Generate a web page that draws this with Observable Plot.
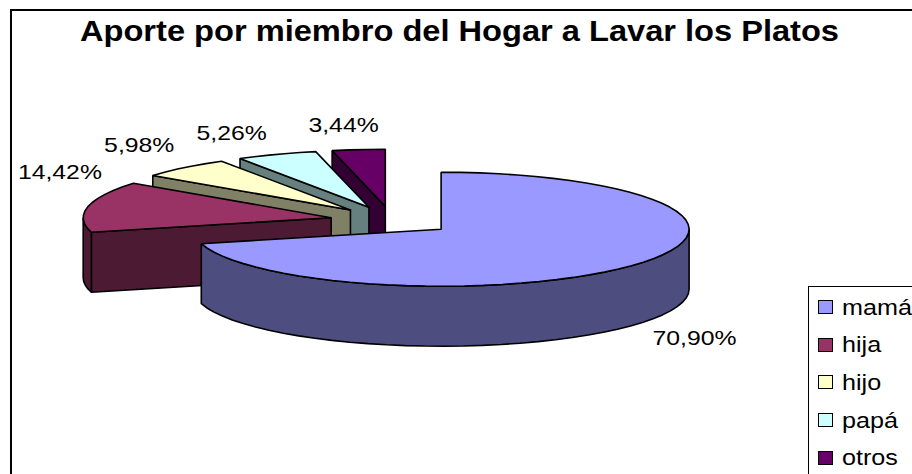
<!DOCTYPE html>
<html><head><meta charset="utf-8">
<script src="https://cdn.jsdelivr.net/npm/d3@7"></script>
<script src="https://cdn.jsdelivr.net/npm/@observablehq/plot@0.6"></script>
<style>
html,body{margin:0;padding:0;background:#fff;overflow:hidden}
#wrap{position:relative;width:912px;height:474px;overflow:hidden;font-family:"Liberation Sans",Arial,sans-serif}
#wrap svg{display:block;position:absolute;left:0;top:0}
#legend{position:absolute;left:808px;top:286px;width:200px;height:300px;border:1px solid #000;background:#fff;color:#000;box-sizing:border-box}
#legend div{position:absolute;left:10px;font-size:21.5px;line-height:24px;white-space:nowrap}
#legend i{position:absolute;left:-1px;top:4.5px;width:15px;height:14px;border:1.5px solid #000;box-sizing:border-box;}
#legend span{position:absolute;left:23px;top:0;transform:scaleX(1.17);transform-origin:0 50%}
</style></head><body><div id="wrap"></div>
<script>
const categories = ["mamá","hija","hijo","papá","otros"];
const shares = [70.90,14.42,5.98,5.26,3.44];
const labels = ["70,90%","14,42%","5,98%","5,26%","3,44%"];
const topColors = ["#9999FF","#993366","#FFFFCC","#CCFFFF","#660066"];
const sideColors = ["#4D4D80","#4D1A33","#808066","#668080","#330033"];
const titleText = "Aporte por miembro del Hogar a Lavar los Platos";

// layout of the projected pie (in screen px)
const cx = 391.5, cy = 220, rx = 248, ry = 57, depthPx = 60, explode = 0.25;
const labelOffsets = [[57,14],[-28,-34],[-45,-22],[-45,-21],[-15,-24]];
const labelStretch = 1.18, titleWidth = 759;
const depth = depthPx / ry;

const total = d3.sum(shares);
let acc = 0;
const slices = categories.map((c,i)=>{
  const a0 = acc/total*2*Math.PI; acc += shares[i];
  const a1 = acc/total*2*Math.PI;
  const mid = (a0+a1)/2;
  return {c,i,a0,a1,mid,ox:explode*Math.sin(mid),oy:explode*Math.cos(mid)};
});
const rim = (s,a,d=0)=>({x:s.ox+Math.sin(a),y:s.oy+Math.cos(a)-d});
const apex = (s,d=0)=>({x:s.ox,y:s.oy-d});
function arc(s,from,to,d=0){
  const n = Math.max(2,Math.ceil(Math.abs(to-from)/(Math.PI/40)));
  return d3.range(n+1).map(k=>rim(s,from+(to-from)*k/n,d));
}
function close(p){return [...p,p[0]];}
const faces = [];
[...slices].reverse().forEach(s=>{
  const wallA = (a)=>close([apex(s),rim(s,a),rim(s,a,depth),apex(s,depth)]);
  if (s.i===0){
    const f=Math.PI/2,t=s.a1;
    faces.push({pts:close([...arc(s,f,t),...arc(s,t,f,depth)]),fill:sideColors[s.i]});
  } else {
    faces.push({pts:wallA(s.a0),fill:sideColors[s.i]});
    if (s.a0 < 1.5*Math.PI){
      const t=1.5*Math.PI;
      faces.push({pts:close([...arc(s,s.a0,t),...arc(s,t,s.a0,depth)]),fill:sideColors[s.i]});
    }
  }
  faces.push({pts:close([apex(s),...arc(s,s.a0,s.a1)]),fill:topColors[s.i]});
});
const lineStroke = {x:"x",y:"y",stroke:"#000",strokeWidth:1.6,curve:"linear",strokeLinejoin:"miter"};

const labelMarks = slices.map(s=>{
  const front = s.i===0;
  const p = rim(s,s.mid,front?depth:0);
  return Plot.text([{...p,t:labels[s.i]}],{x:"x",y:"y",text:"t",fontSize:21,fill:"#000",className:"pct",
    dx:labelOffsets[s.i][0],dy:labelOffsets[s.i][1],textAnchor:"middle"});
});

const plot = Plot.plot({
  width:912,height:474,margin:0,
  x:{domain:[-1,1],range:[cx-rx,cx+rx],axis:null},
  y:{domain:[1,-1],range:[cy-ry,cy+ry],axis:null},
  marks:[
    Plot.frame({stroke:"#000",strokeWidth:2,insetLeft:10.5,insetTop:9.5,insetRight:-10,insetBottom:-10}),
    ...faces.map(f=>Plot.line(f.pts,{...lineStroke,fill:f.fill})),
    ...labelMarks,
    Plot.text([titleText],{text:d=>d,frameAnchor:"top",dx:3,dy:19.5,fontSize:29.5,fontWeight:"bold",fill:"#000",lineAnchor:"top",className:"ttl"})
  ]
});
plot.style.fontFamily='"Liberation Sans",Arial,sans-serif';
const wrap=document.getElementById("wrap");
wrap.appendChild(plot);
const stretch=(t,w)=>{t.setAttribute("textLength",w);t.setAttribute("lengthAdjust","spacingAndGlyphs");};
plot.querySelectorAll(".pct text").forEach(t=>stretch(t,t.getComputedTextLength()*labelStretch));
plot.querySelectorAll(".ttl text").forEach(t=>stretch(t,titleWidth));
const leg=document.createElement("div");leg.id="legend";
categories.forEach((c,i)=>{
  const r=document.createElement("div");
  r.style.top=(8.5+i*37.7)+"px";
  r.innerHTML=`<i style="background:${topColors[i]}"></i><span>${c}</span>`;
  leg.appendChild(r);
});
wrap.appendChild(leg);
</script></body></html>
